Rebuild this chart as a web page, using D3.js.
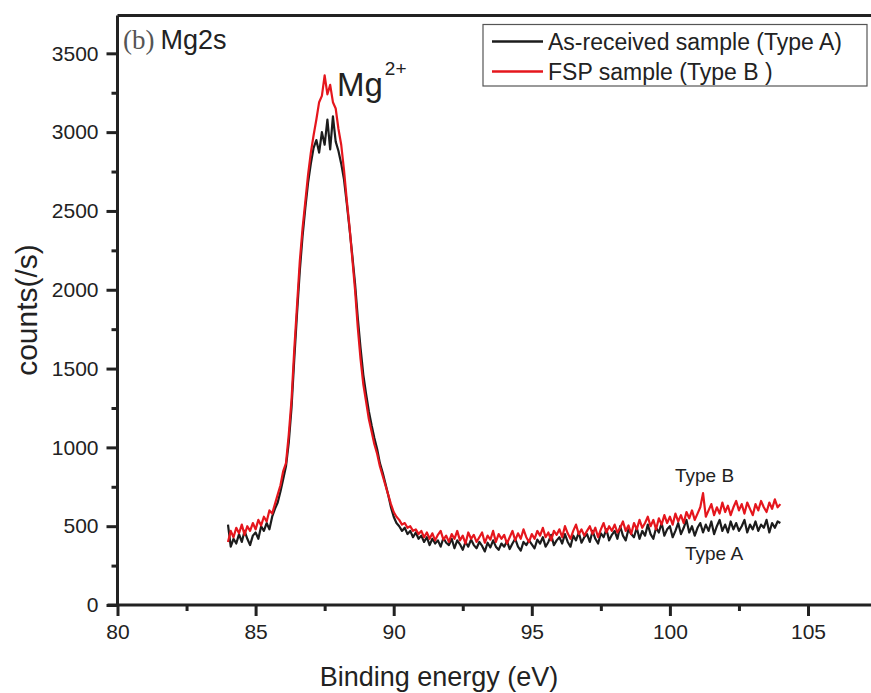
<!DOCTYPE html>
<html>
<head>
<meta charset="utf-8">
<script src="https://cdn.jsdelivr.net/npm/d3@7"></script>
<style>
  html, body { margin: 0; padding: 0; background: #fff; }
  svg { display: block; font-family: "Liberation Sans", Arial, sans-serif; }
</style>
</head>
<body>
<svg id="chart" width="871" height="693"></svg>
<script>
// Mg2s XPS spectra, binding energy 84.0 - 104.0 eV in 0.1 eV steps
const energyStart = 84.0;
const energyStep = 0.1;

// As-received sample (Type A)
const typeA = [
  510, 370, 420, 390, 450, 400, 470, 420, 380, 440,
  460, 420, 500, 470, 520, 480, 560, 610, 650, 720,
  800, 880, 1030, 1250, 1560, 1850, 2120, 2340, 2520, 2680,
  2800, 2900, 2950, 2870, 3000, 2920, 3080, 2890, 3100, 2940,
  2880, 2800, 2700, 2550, 2390, 2220, 2040, 1820, 1630, 1460,
  1340, 1230, 1140, 1060, 990, 900, 840, 770, 700, 620,
  560, 520, 500, 470, 490, 450, 470, 430, 460, 420,
  440, 400, 430, 380, 420, 390, 410, 370, 425, 395,
  380, 420, 360, 410, 385, 350, 400, 370, 415, 380,
  360, 400, 375, 340, 395, 365, 410, 370, 350, 390,
  370, 405, 355, 390, 420, 370, 345, 400, 380, 410,
  385, 360, 415, 390, 430, 370, 400, 445, 380, 410,
  430, 390, 450, 400, 370, 440, 410, 460, 395, 430,
  450, 400, 470, 420, 390, 455, 430, 480, 410, 445,
  470, 420, 500, 440, 410, 480, 450, 430, 490, 420,
  470, 440, 510, 450, 420, 490, 460, 520, 440, 480,
  500, 430, 470, 520, 450, 490, 540, 460, 500, 440,
  490, 520, 460, 510, 470, 530, 450, 500, 540, 470,
  510, 460, 530, 480, 520, 470, 500, 540, 460, 510,
  480, 530, 470, 510, 490, 540, 460, 520, 490, 530,
  520
];

// FSP sample (Type B)
const typeB = [
  400, 470, 430, 490, 455, 510, 445, 500, 470, 520,
  480, 540, 505, 560, 530, 600, 580, 640, 700, 760,
  850, 900, 1080, 1300, 1620, 1900, 2180, 2390, 2560, 2730,
  2870, 2980, 3080, 3190, 3230, 3360, 3240, 3300, 3190, 3150,
  3020, 2920, 2760, 2570, 2400, 2200, 2000, 1760, 1560, 1400,
  1290, 1180, 1100, 1020, 960, 880, 820, 760, 700, 640,
  590, 560, 540, 510, 520, 490, 500, 470, 480, 450,
  470, 430, 460, 420, 455, 410, 445, 470, 415, 440,
  400, 450, 420, 470, 410, 440, 390, 460, 420, 445,
  400, 430, 460, 395, 440, 415, 470, 400, 450, 420,
  445, 390, 430, 470, 410, 455, 420, 480, 430, 400,
  450, 420, 470, 440, 490, 430, 460, 410, 470, 445,
  480, 430, 500, 455, 420, 470, 510, 450, 480, 440,
  470, 500, 450, 490, 430, 480, 520, 460, 500, 470,
  510, 460, 490, 530, 470, 505, 450, 520, 480, 540,
  490, 520, 560, 500, 540, 480, 550, 510, 570, 520,
  560, 510, 580, 530, 570, 520, 590, 550, 600, 540,
  580, 620, 710, 560, 600, 640, 570, 620, 580, 650,
  590, 630, 570, 620, 660, 600, 640, 580, 650, 610,
  570, 640, 600, 660, 620, 590, 650, 610, 670, 620,
  640
];

const xTicks = [80, 85, 90, 95, 100, 105];
const yTicks = [0, 500, 1000, 1500, 2000, 2500, 3000, 3500];
const legendLabels = ["As-received sample (Type A)", "FSP sample (Type B )"];
const seriesColors = ["#1c1c1c", "#e5161d"];

const svg = d3.select("#chart");
const plotLeft = 117.5, plotTop = 15.5, plotBottom = 605, pxPerEv = 27.62;

const x = d3.scaleLinear().domain([80, 110]).range([plotLeft, plotLeft + 30 * pxPerEv]);
const y = d3.scaleLinear().domain([0, 3740]).range([plotBottom, plotTop]);

const toPoints = arr => arr.map((v, i) => [energyStart + i * energyStep, v]);
const line = d3.line().x(d => x(d[0])).y(d => y(d[1]));

// "(b) Mg2s" panel tag on a white patch
svg.append("rect").attr("x", plotLeft + 2).attr("y", plotTop + 2).attr("width", 118).attr("height", 40).attr("fill", "#fff");
const tag = svg.append("text").attr("x", 123).attr("y", 49).attr("font-size", 27);
tag.append("tspan").attr("font-family", "Liberation Serif, Times New Roman, serif").attr("fill", "#555").text("(b)");
tag.append("tspan").attr("dx", 6).attr("fill", "#222").text("Mg2s");

// spectra
[typeA, typeB].forEach((arr, k) => {
  svg.append("path")
    .datum(toPoints(arr))
    .attr("fill", "none")
    .attr("stroke", seriesColors[k])
    .attr("stroke-width", 2.2)
    .attr("stroke-linejoin", "round")
    .attr("d", line);
});

// top edge of the frame
svg.append("line").attr("x1", plotLeft).attr("x2", 871).attr("y1", plotTop).attr("y2", plotTop)
  .attr("stroke", "#222").attr("stroke-width", 3);

// x axis
const xMinor = d3.range(82.5, 110, 5).filter(v => x(v) < 871);
const xAxis = svg.append("g").attr("transform", `translate(0,${plotBottom})`)
  .call(d3.axisBottom(x).tickValues(xTicks).tickFormat(d3.format("d")).tickSize(11).tickPadding(8));
svg.append("g").attr("transform", `translate(0,${plotBottom})`)
  .call(d3.axisBottom(x).tickValues(xMinor).tickFormat("").tickSize(6))
  .call(g => g.select(".domain").remove());

// y axis
const yMinor = d3.range(250, 3740, 500);
const yAxis = svg.append("g").attr("transform", `translate(${plotLeft},0)`)
  .call(d3.axisLeft(y).tickValues(yTicks).tickFormat(d3.format("d")).tickSize(11).tickPadding(8));
svg.append("g").attr("transform", `translate(${plotLeft},0)`)
  .call(d3.axisLeft(y).tickValues(yMinor).tickFormat("").tickSize(6))
  .call(g => g.select(".domain").remove());

svg.selectAll(".domain").attr("stroke", "#222").attr("stroke-width", 3);
svg.selectAll(".tick line").attr("stroke", "#222").attr("stroke-width", 3);
svg.selectAll(".tick text").attr("fill", "#222").attr("font-size", 21)
  .attr("font-family", "Liberation Sans, Arial, sans-serif");
// x axis line starts at the y axis stub; y axis line runs from 0 to the frame top
xAxis.select(".domain").attr("d", `M${plotLeft - 10},0H871`);
yAxis.select(".domain").attr("d", `M0,${y(0)}V${plotTop}`);

// axis titles
svg.append("text").attr("x", 439).attr("y", 686)
  .attr("text-anchor", "middle").attr("font-size", 27).attr("fill", "#222")
  .text("Binding energy (eV)");
svg.append("text").attr("transform", "translate(37,310) rotate(-90)")
  .attr("text-anchor", "middle").attr("font-size", 30).attr("fill", "#222")
  .text("counts(/s)");

// peak label
const peak = svg.append("text").attr("x", 337).attr("y", 96).attr("font-size", 33).attr("fill", "#222");
peak.append("tspan").text("Mg");
peak.append("tspan").attr("font-size", 19).attr("dy", -21).attr("dx", 2).text("2+");

// series tags on the baseline
svg.append("text").attr("x", 675).attr("y", 482).attr("font-size", 19).attr("fill", "#222").text("Type B");
svg.append("text").attr("x", 685).attr("y", 560).attr("font-size", 19).attr("fill", "#222").text("Type A");

// legend
const lg = svg.append("g");
lg.append("rect").attr("x", 483).attr("y", 24.5).attr("width", 384).attr("height", 61.5)
  .attr("fill", "#fff").attr("stroke", "#555").attr("stroke-width", 1.2);
legendLabels.forEach((lab, k) => {
  const cy = 41.5 + k * 30;
  lg.append("line").attr("x1", 492).attr("x2", 543).attr("y1", cy).attr("y2", cy)
    .attr("stroke", seriesColors[k]).attr("stroke-width", 2.5);
  lg.append("text").attr("x", 548).attr("y", cy + 8).attr("font-size", 23).attr("fill", "#222").text(lab);
});
</script>
</body>
</html>
